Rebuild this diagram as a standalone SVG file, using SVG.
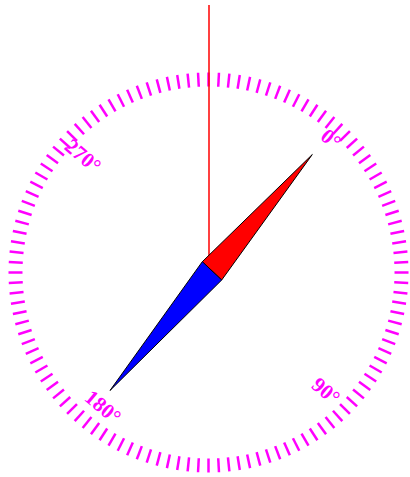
<svg xmlns="http://www.w3.org/2000/svg" xmlns:xlink="http://www.w3.org/1999/xlink" width="410" height="477" viewBox="0 0 410 477">
<style>
.tick{stroke:#ff00ff;stroke-width:2.5;stroke-linecap:butt}
.lbl{font-family:"Liberation Serif","Times New Roman",serif;font-weight:bold;font-size:21px;fill:#ff00ff;text-anchor:middle}
.needle{stroke:#000;stroke-width:1;stroke-linejoin:miter}
</style>
<defs>
<line id="t" class="tick" x1="0" y1="-200" x2="0" y2="-186"/>
<g id="t10">
<use xlink:href="#t"/>
<use xlink:href="#t" transform="rotate(3)"/>
<use xlink:href="#t" transform="rotate(6)"/>
<use xlink:href="#t" transform="rotate(9)"/>
<use xlink:href="#t" transform="rotate(12)"/>
<use xlink:href="#t" transform="rotate(15)"/>
<use xlink:href="#t" transform="rotate(18)"/>
<use xlink:href="#t" transform="rotate(21)"/>
<use xlink:href="#t" transform="rotate(24)"/>
<use xlink:href="#t" transform="rotate(27)"/>
</g>
</defs>
<g id="dial" transform="translate(208.5,272.5)">
<use xlink:href="#t10"/>
<use xlink:href="#t10" transform="rotate(30)"/>
<use xlink:href="#t10" transform="rotate(60)"/>
<use xlink:href="#t10" transform="rotate(90)"/>
<use xlink:href="#t10" transform="rotate(120)"/>
<use xlink:href="#t10" transform="rotate(150)"/>
<use xlink:href="#t10" transform="rotate(180)"/>
<use xlink:href="#t10" transform="rotate(210)"/>
<use xlink:href="#t10" transform="rotate(240)"/>
<use xlink:href="#t10" transform="rotate(270)"/>
<use xlink:href="#t10" transform="rotate(300)"/>
<use xlink:href="#t10" transform="rotate(330)"/>
</g>
<g id="labels">
<text class="lbl" transform="translate(331,139) rotate(40)" y="7">0°</text>
<text class="lbl" transform="translate(326,391) rotate(40)" y="7">90°</text>
<text class="lbl" transform="translate(103,407) rotate(40)" y="7">180°</text>
<text class="lbl" transform="translate(83,156) rotate(40)" y="7">270°</text>
</g>
<g id="connectors">
<line x1="209" y1="5" x2="209" y2="272" stroke="#ff0000" stroke-width="1.5"/>
</g>
<g id="needle">
<polygon class="needle" fill="#ff0000" points="312.3,154.5 202.3,261.7 221.7,280"/>
<polygon class="needle" fill="#0000ff" points="110,390.5 202.3,261.7 221.7,280"/>
</g>
</svg>
